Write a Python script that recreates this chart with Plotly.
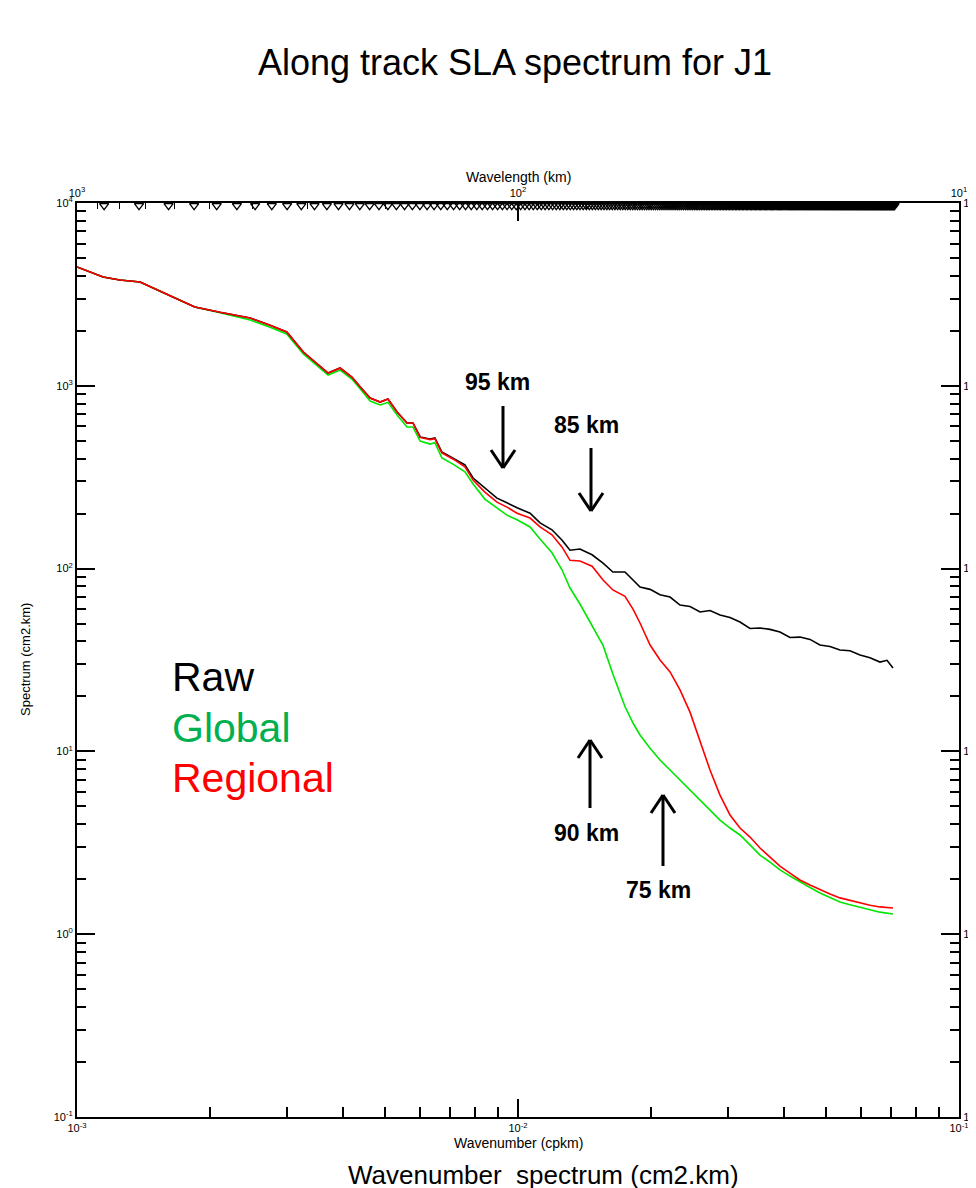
import plotly.graph_objects as go

# ---------------- data ----------------
wavenumber_cpkm = [0.00100, 0.00107, 0.001146, 0.00125, 0.00139, 0.00154, 0.00171, 0.00185, 0.00211, 0.00247,
                   0.00274, 0.00299, 0.00326, 0.00346, 0.00371, 0.00395, 0.00420, 0.00438, 0.00462, 0.00487,
                   0.00507, 0.00532, 0.00560, 0.00578, 0.00600, 0.00632, 0.00648, 0.00672, 0.00712, 0.00758,
                   0.00791, 0.00841, 0.00896, 0.00944, 0.00995, 0.01065, 0.01122, 0.01194, 0.01259, 0.01312,
                   0.01382, 0.01472, 0.01559, 0.01641, 0.01748, 0.01823, 0.01891, 0.01993, 0.02099, 0.02212,
                   0.02330, 0.02455, 0.02587, 0.02725, 0.02871, 0.03025, 0.03187, 0.03358, 0.03538, 0.03727,
                   0.03927, 0.04137, 0.04358, 0.04594, 0.04838, 0.05099, 0.05371, 0.05659, 0.05963, 0.06284,
                   0.06620, 0.06866, 0.07085]

raw_spectrum = [4466, 4193, 3937, 3792, 3697, 3300, 2947, 2699, 2523, 2349,
                2146, 1970, 1531, 1358, 1175, 1251, 1117, 991, 858, 815,
                847, 719, 626, 626, 525, 512, 518, 434, 403, 369,
                313, 276, 243, 229, 215, 201, 178, 163, 143, 126,
                128, 119, 107, 95.8, 95.8, 86.6, 79.3, 77.0, 72.0, 69.9,
                63.2, 62.0, 57.9, 59.0, 55.7, 54.0, 51.0, 47.0, 47.3, 46.5,
                45.0, 42.0, 42.2, 41.0, 38.2, 37.5, 35.9, 35.5, 33.7, 32.5,
                30.8, 31.5, 28.6]

global_spectrum = [4466, 4193, 3937, 3792, 3697, 3300, 2947, 2699, 2510, 2290,
                   2092, 1920, 1493, 1324, 1146, 1220, 1089, 966, 826, 785,
                   812, 692, 595, 595, 499, 480, 488, 403, 373, 338,
                   290, 240, 215, 196, 185, 169, 145, 122, 98.2, 78.3,
                   64.0, 49.0, 38.0, 26.5, 17.6, 14.3, 12.3, 10.4, 8.97, 7.91,
                   6.97, 6.15, 5.42, 4.78, 4.21, 3.81, 3.49, 3.08, 2.71, 2.48,
                   2.25, 2.08, 1.93, 1.80, 1.68, 1.58, 1.50, 1.45, 1.41, 1.36,
                   1.32, 1.31, 1.29]

regional_spectrum = [4466, 4193, 3937, 3792, 3697, 3300, 2947, 2699, 2523, 2349,
                     2146, 1970, 1531, 1358, 1175, 1251, 1117, 991, 858, 815,
                     847, 719, 626, 626, 522, 508, 514, 430, 398, 360,
                     305, 262, 231, 217, 201, 189, 169, 153, 131, 111,
                     110, 103, 86.6, 76.4, 70.5, 60.1, 50.4, 38.2, 31.6, 27.2,
                     21.7, 16.4, 11.5, 7.91, 5.77, 4.49, 3.81, 3.40, 2.96, 2.64,
                     2.36, 2.16, 1.98, 1.86, 1.75, 1.66, 1.58, 1.53, 1.48, 1.44,
                     1.41, 1.40, 1.39]

# sample grid of the spectrum (shown as triangles on the wavelength axis)
n_samples = 620
dx_km = 7
grid_index = list(range(4, 311))

series_names = ["Raw", "Global", "Regional"]
x_tick_vals = [1e-3, 1e-2, 1e-1]
x_tick_text = ["10<sup>-3</sup>", "10<sup>-2</sup>", "10<sup>-1</sup>"]
y_tick_vals = [1e-1, 1e0, 1e1, 1e2, 1e3, 1e4]
y_tick_text = ["10<sup>-1</sup>", "10<sup>0</sup>", "10<sup>1</sup>", "10<sup>2</sup>", "10<sup>3</sup>", "10<sup>4</sup>"]
top_tick_vals = [1000, 100, 10]
top_tick_text = ["10<sup>3</sup>", "10<sup>2</sup>", "10<sup>1</sup>"]
arrow_labels = ["95 km", "85 km", "90 km", "75 km"]

# ---------------- figure ----------------
OFF = 8                      # page body margin of the html page
W, H = 976 - OFF, 1188 - OFF
ML, MR, MT, MB = 77 - OFF, 17, 203 - OFF, 71
PW, PH = W - ML - MR, H - MT - MB


def px(x):                   # screen x -> paper
    return (x - OFF - ML) / PW


def py(y):                   # screen y -> paper
    return (H - MB - (y - OFF)) / PH


FONT = "Liberation Sans, Arial, sans-serif"
GREEN_LINE = "#00e600"
GREEN_TEXT = "#00b050"
RED = "#ff0000"

fig = go.Figure()
fig.add_trace(go.Scatter(x=wavenumber_cpkm, y=global_spectrum, mode="lines", name=series_names[1],
                         line=dict(color=GREEN_LINE, width=1.6)))
fig.add_trace(go.Scatter(x=wavenumber_cpkm, y=raw_spectrum, mode="lines", name=series_names[0],
                         line=dict(color="black", width=1.6)))
fig.add_trace(go.Scatter(x=wavenumber_cpkm, y=regional_spectrum, mode="lines", name=series_names[2],
                         line=dict(color=RED, width=1.6)))

tri_k = [n / (n_samples * dx_km) for n in grid_index]
fig.add_trace(go.Scatter(x=tri_k, y=[0.9972] * len(tri_k), mode="markers", xaxis="x", yaxis="y3",
                         marker=dict(symbol="triangle-down-open", size=8, color="black",
                                     line=dict(color="black", width=1.3)),
                         cliponaxis=False, hoverinfo="skip", showlegend=False))
# anchor trace for the wavelength / right axes
fig.add_trace(go.Scatter(x=[100], y=[1], xaxis="x2", yaxis="y2", mode="markers",
                         marker=dict(opacity=0), hoverinfo="skip", showlegend=False))

minor_x = [m * 10 ** e for e in (-3, -2) for m in range(2, 10)]
minor_y = [m * 10 ** e for e in (-1, 0, 1, 2, 3) for m in range(2, 10)]
minor_top = [m * 10 ** e for e in (1, 2) for m in range(2, 10)]

axis_common = dict(type="log", showline=True, linecolor="black", linewidth=2, ticks="inside",
                   ticklen=18, tickwidth=1.5, tickcolor="black", showgrid=False, zeroline=False,
                   tickmode="array", tickfont=dict(family=FONT, size=11, color="black"))

fig.update_layout(
    width=W, height=H,
    margin=dict(l=ML, r=MR, t=MT, b=MB, autoexpand=False),
    paper_bgcolor="white", plot_bgcolor="white",
    showlegend=False,
    font=dict(family=FONT, color="black"),
    title=dict(text="Along track SLA spectrum for J1", x=(515 - OFF) / W, xanchor="center",
               y=1 - (62 - OFF) / H, yanchor="middle", font=dict(family=FONT, size=36, color="black")),
    xaxis=dict(range=[-3, -1], tickvals=x_tick_vals, ticktext=x_tick_text,
               minor=dict(ticks="inside", ticklen=10, tickwidth=1.5, tickcolor="black",
                          tickmode="array", tickvals=minor_x, showgrid=False),
               **axis_common),
    xaxis2=dict(range=[3, 1], overlaying="x", side="top", anchor="y", tickvals=top_tick_vals,
                ticktext=top_tick_text,
                minor=dict(ticks="inside", ticklen=6, tickwidth=1.2, tickcolor="black",
                           tickmode="array", tickvals=minor_top, showgrid=False),
                **axis_common),
    yaxis=dict(range=[-1, 4], tickvals=y_tick_vals, ticktext=y_tick_text,
               minor=dict(ticks="inside", ticklen=9, tickwidth=1.5, tickcolor="black",
                          tickmode="array", tickvals=minor_y, showgrid=False),
               **axis_common),
    yaxis2=dict(range=[-1, 4], overlaying="y", side="right", anchor="x", tickvals=y_tick_vals,
                ticktext=y_tick_text,
                minor=dict(ticks="inside", ticklen=9, tickwidth=1.5, tickcolor="black",
                           tickmode="array", tickvals=minor_y, showgrid=False),
                **axis_common),
    yaxis3=dict(range=[0, 1], overlaying="y", visible=False, fixedrange=True),
)

annotations = [
    dict(text="Wavelength (km)", x=px(518), y=py(177), font=dict(size=14)),
    dict(text="Wavenumber (cpkm)", x=px(518), y=py(1143), font=dict(size=14)),
    dict(text="Wavenumber  spectrum (cm2.km)", x=px(543), y=py(1175), font=dict(size=26)),
    dict(text="Spectrum (cm2.km)", x=px(25), y=py(660), textangle=-90, font=dict(size=13)),
    dict(text=series_names[0], x=px(170), y=py(677), xanchor="left", font=dict(size=41, color="black")),
    dict(text=series_names[1], x=px(170), y=py(728), xanchor="left", font=dict(size=41, color=GREEN_TEXT)),
    dict(text=series_names[2], x=px(170), y=py(778), xanchor="left", font=dict(size=41, color=RED)),
    dict(text="<b>%s</b>" % arrow_labels[0], x=px(497), y=py(382), font=dict(size=23)),
    dict(text="<b>%s</b>" % arrow_labels[1], x=px(586), y=py(425), font=dict(size=23)),
    dict(text="<b>%s</b>" % arrow_labels[2], x=px(586), y=py(833), font=dict(size=23)),
    dict(text="<b>%s</b>" % arrow_labels[3], x=px(658), y=py(890), font=dict(size=23)),
]
for a in annotations:
    a.setdefault("xref", "paper")
    a.setdefault("yref", "paper")
    a.setdefault("showarrow", False)
    a.setdefault("xanchor", "center")
    a.setdefault("yanchor", "middle")
    a["font"] = dict(family=FONT, color=a["font"].get("color", "black"), size=a["font"]["size"])
fig.update_layout(annotations=annotations)


def arrow(x, y_tail, y_tip):
    d = 1 if y_tip > y_tail else -1  # pointing down if tip below tail
    shapes = [
        dict(type="line", x0=px(x), x1=px(x), y0=py(y_tail), y1=py(y_tip)),
        dict(type="line", x0=px(x - 12), x1=px(x), y0=py(y_tip - d * 18), y1=py(y_tip)),
        dict(type="line", x0=px(x + 12), x1=px(x), y0=py(y_tip - d * 18), y1=py(y_tip)),
    ]
    for s in shapes:
        s.update(xref="paper", yref="paper", line=dict(color="black", width=3))
    return shapes


shapes = []
shapes += arrow(503, 406, 468)
shapes += arrow(591, 448, 511)
shapes += arrow(590, 808, 740)
shapes += arrow(663, 866, 795)
fig.update_layout(shapes=shapes)

fig.write_html("out.html")
